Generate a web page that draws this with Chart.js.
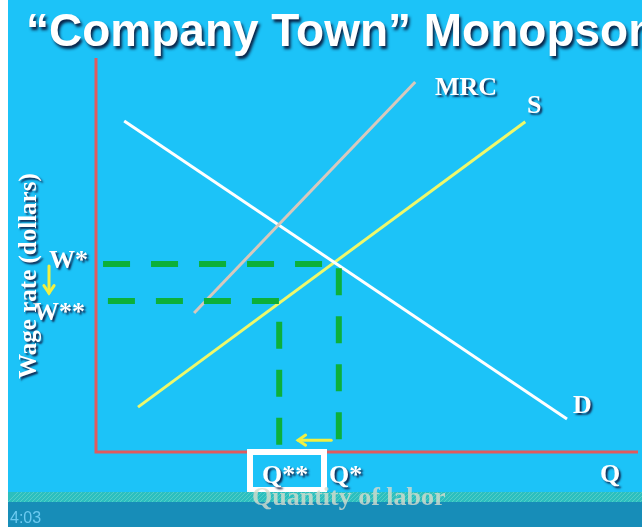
<!DOCTYPE html>
<html>
<head>
<meta charset="utf-8">
<script src="https://cdn.jsdelivr.net/npm/chart.js@4/dist/chart.umd.min.js"></script>
<style>
  body { margin: 0; background: #ffffff; }
  canvas { display: block; }
</style>
</head>
<body>
<canvas id="monopsonyChart" width="642" height="527"></canvas>
<script>
// Curves (x = quantity of labor, y = wage rate, both on a 0-100 scale)
const demandX = [5.2, 86.9];
const demandY = [84.0, 8.4];
const supplyX = [7.75, 79.2];
const supplyY = [11.4, 83.8];
const mrcX = [18.1, 58.9];
const mrcY = [35.3, 93.9];

// Equilibrium guides (competitive W*,Q* and monopsony W**,Q**)
const wStarGuideX = [1.3, 44.8, 44.8];
const wStarGuideY = [47.7, 47.7, 0];
const wTwoStarGuideX = [2.2, 33.8, 33.8];
const wTwoStarGuideY = [38.3, 38.3, 0];

// Axes
const axisX = [0, 0, 100];
const axisY = [100, 0, 0];

// Text labels
const titleText = '\u201CCompany Town\u201D Monopsony';
const yAxisTitle = 'Wage rate (dollars)';
const xAxisTitle = 'Quantity of labor';
const curveLabels = ['MRC', 'S', 'D'];
const wageTicks = ['W*', 'W**'];
const qtyTicks = ['Q**', 'Q*', 'Q'];
const timeStamp = '4:03';

function toPoints(xs, ys) {
    return xs.map((x, i) => ({ x: x, y: ys[i] }));
}

function shadowText(ctx, text, x, y, color) {
    ctx.save();
    ctx.shadowColor = 'rgba(15, 30, 70, 0.9)';
    ctx.shadowOffsetX = 2;
    ctx.shadowOffsetY = 2;
    ctx.shadowBlur = 2;
    ctx.fillStyle = color || '#ffffff';
    ctx.fillText(text, x, y);
    ctx.restore();
}

function arrow(ctx, x1, y1, x2, y2, color) {
    const ang = Math.atan2(y2 - y1, x2 - x1);
    ctx.save();
    ctx.strokeStyle = color;
    ctx.lineWidth = 3;
    ctx.lineCap = 'round';
    ctx.beginPath();
    ctx.moveTo(x1, y1);
    ctx.lineTo(x2, y2);
    ctx.stroke();
    ctx.beginPath();
    ctx.moveTo(x2 - 9 * Math.cos(ang - 0.6), y2 - 9 * Math.sin(ang - 0.6));
    ctx.lineTo(x2, y2);
    ctx.lineTo(x2 - 9 * Math.cos(ang + 0.6), y2 - 9 * Math.sin(ang + 0.6));
    ctx.stroke();
    ctx.restore();
}

const backgroundPlugin = {
    id: 'slideBackground',
    beforeDraw(chart) {
        const ctx = chart.ctx;
        ctx.save();
        ctx.fillStyle = '#1cc3f8';
        ctx.fillRect(0, 0, chart.width, chart.height);
        ctx.fillStyle = '#ffffff';
        ctx.fillRect(0, 0, 8, chart.height);
        ctx.restore();
    }
};

const labelPlugin = {
    id: 'slideLabels',
    afterDatasetsDraw(chart) {
        const ctx = chart.ctx;
        const xs = chart.scales.x;
        const ys = chart.scales.y;

        // title
        ctx.save();
        ctx.font = 'bold 46px "Liberation Sans", Arial, sans-serif';
        ctx.textBaseline = 'alphabetic';
        ctx.save();
        ctx.shadowColor = 'rgba(10, 25, 60, 0.95)';
        ctx.shadowOffsetX = 2;
        ctx.shadowOffsetY = 3;
        ctx.shadowBlur = 3;
        ctx.fillStyle = '#ffffff';
        ctx.fillText(titleText, 26, 46);
        ctx.restore();

        ctx.font = 'bold 26px "Liberation Serif", "Times New Roman", serif';
        shadowText(ctx, curveLabels[0], 435, 95);
        shadowText(ctx, curveLabels[1], 527, 113);
        shadowText(ctx, curveLabels[2], 573, 413);
        shadowText(ctx, wageTicks[0], 49, 268);
        shadowText(ctx, wageTicks[1], 33, 320);

        // box around Q**
        ctx.strokeStyle = '#ffffff';
        ctx.lineWidth = 6;
        ctx.strokeRect(250, 452, 74, 38);

        shadowText(ctx, qtyTicks[0], 262, 483);
        shadowText(ctx, qtyTicks[1], 329, 483);
        shadowText(ctx, qtyTicks[2], 600, 482);

        // y axis title
        ctx.save();
        ctx.font = 'bold 25px "Liberation Serif", "Times New Roman", serif';
        ctx.translate(36, 276);
        ctx.rotate(-Math.PI / 2);
        ctx.textAlign = 'center';
        shadowText(ctx, yAxisTitle, 0, 0);
        ctx.restore();

        // arrows showing the move from W*,Q* to W**,Q**
        arrow(ctx, 49, 266, 49, 293, '#f2f040');
        arrow(ctx, xs.getPixelForValue(43.4), ys.getPixelForValue(3.0),
              xs.getPixelForValue(37.3), ys.getPixelForValue(3.0), '#f2f040');

        // video player strip at the bottom
        ctx.fillStyle = '#2cbfbe';
        ctx.fillRect(8, 492, chart.width - 8, 10);
        ctx.strokeStyle = 'rgba(120, 220, 210, 0.5)';
        ctx.lineWidth = 1;
        for (let x = 8; x < chart.width + 10; x += 4) {
            ctx.beginPath();
            ctx.moveTo(x, 502);
            ctx.lineTo(x + 10, 492);
            ctx.stroke();
        }
        ctx.fillStyle = '#178db8';
        ctx.fillRect(8, 502, chart.width - 8, chart.height - 502);

        ctx.font = 'bold 26px "Liberation Serif", "Times New Roman", serif';
        ctx.fillStyle = 'rgba(215, 220, 205, 0.8)';
        ctx.fillText(xAxisTitle, 252, 505);

        ctx.font = '16px "Liberation Sans", Arial, sans-serif';
        ctx.fillStyle = '#6ccaf0';
        ctx.fillText(timeStamp, 10, 523);
        ctx.restore();
    }
};

const ctx = document.getElementById('monopsonyChart').getContext('2d');
new Chart(ctx, {
    type: 'line',
    data: {
        datasets: [
            {
                label: 'axes',
                data: toPoints(axisX, axisY),
                borderColor: '#e05a5e',
                borderWidth: 3
            },
            {
                label: 'W* guide',
                data: toPoints(wStarGuideX, wStarGuideY),
                borderColor: '#0cb03a',
                borderWidth: 6,
                borderDash: [27, 21]
            },
            {
                label: 'W** guide',
                data: toPoints(wTwoStarGuideX, wTwoStarGuideY),
                borderColor: '#0cb03a',
                borderWidth: 6,
                borderDash: [27, 21]
            },
            {
                label: 'MRC',
                data: toPoints(mrcX, mrcY),
                borderColor: '#d8c8bc',
                borderWidth: 3
            },
            {
                label: 'D',
                data: toPoints(demandX, demandY),
                borderColor: '#ffffff',
                borderWidth: 3
            },
            {
                label: 'S',
                data: toPoints(supplyX, supplyY),
                borderColor: '#eef86a',
                borderWidth: 3
            }
        ]
    },
    options: {
        responsive: false,
        animation: false,
        events: [],
        layout: { padding: { left: 96, right: 4, top: 58, bottom: 75 } },
        datasets: { line: { pointRadius: 0, tension: 0, fill: false, clip: false, borderCapStyle: 'butt' } },
        scales: {
            x: { type: 'linear', min: 0, max: 100, display: false },
            y: { type: 'linear', min: 0, max: 100, display: false }
        },
        plugins: {
            legend: { display: false },
            tooltip: { enabled: false },
            title: { display: false }
        }
    },
    plugins: [backgroundPlugin, labelPlugin]
});
</script>
</body>
</html>
